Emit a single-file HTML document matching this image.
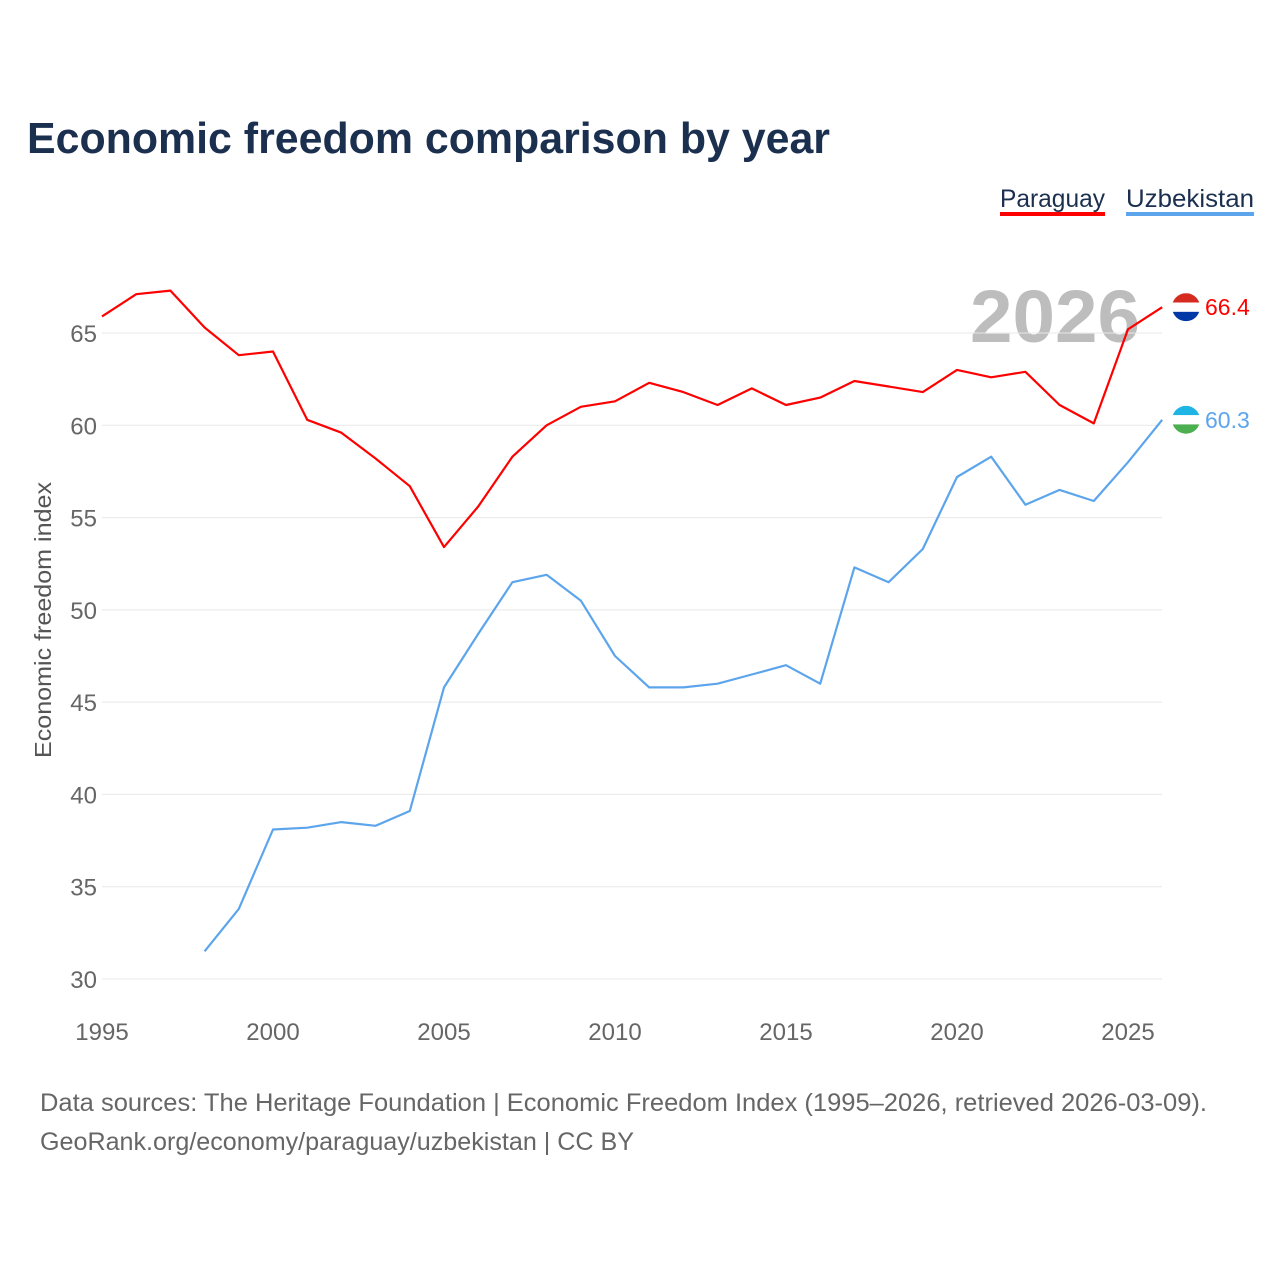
<!DOCTYPE html>
<html><head><meta charset="utf-8"><style>
body{margin:0;background:#fff;width:1280px;height:1280px;overflow:hidden;font-family:"Liberation Sans",sans-serif}
</style></head><body>
<svg width="1280" height="1280" xmlns="http://www.w3.org/2000/svg">
<defs>
<clipPath id="cp1"><circle cx="1186" cy="307" r="14"/></clipPath>
<clipPath id="cp2"><circle cx="1186" cy="420" r="14"/></clipPath>
</defs>
<text x="27" y="153" font-size="44" font-weight="bold" fill="#1b2f4e" textLength="803" lengthAdjust="spacingAndGlyphs">Economic freedom comparison by year</text>
<g>
<text x="1000" y="207" font-size="25" fill="#1b2f4e" textLength="105" lengthAdjust="spacingAndGlyphs">Paraguay</text>
<rect x="1000" y="212" width="105" height="4" fill="#ff0000"/>
<text x="1126" y="207" font-size="25" fill="#1b2f4e" textLength="128" lengthAdjust="spacingAndGlyphs">Uzbekistan</text>
<rect x="1126" y="212" width="128" height="4" fill="#5ca5ec"/>
</g>
<text x="1140" y="342" font-size="74" font-weight="bold" fill="#bdbdbd" text-anchor="end" textLength="170" lengthAdjust="spacingAndGlyphs">2026</text>
<g id="grid"></g><g id="xt"></g><g id="yt"></g><g id="lines"></g>
<text transform="translate(51,620) rotate(-90)" font-size="23" fill="#555" text-anchor="middle" textLength="276" lengthAdjust="spacingAndGlyphs">Economic freedom index</text>
<text x="40" y="1111" font-size="25" fill="#666" textLength="1167" lengthAdjust="spacingAndGlyphs">Data sources: The Heritage Foundation | Economic Freedom Index (1995–2026, retrieved 2026-03-09).</text>
<text x="40" y="1150" font-size="25" fill="#666" textLength="594" lengthAdjust="spacingAndGlyphs">GeoRank.org/economy/paraguay/uzbekistan | CC BY</text>
</svg>
<script>
const years=[1995,1996,1997,1998,1999,2000,2001,2002,2003,2004,2005,2006,2007,2008,2009,2010,2011,2012,2013,2014,2015,2016,2017,2018,2019,2020,2021,2022,2023,2024,2025,2026];
const paraguay=[65.9,67.1,67.3,65.3,63.8,64.0,60.3,59.6,58.2,56.7,53.4,55.6,58.3,60.0,61.0,61.3,62.3,61.8,61.1,62.0,61.1,61.5,62.4,62.1,61.8,63.0,62.6,62.9,61.1,60.1,65.2,66.4];
const uzbekistan=[null,null,null,31.5,33.8,38.1,38.2,38.5,38.3,39.1,45.8,48.7,51.5,51.9,50.5,47.5,45.8,45.8,46.0,46.5,47.0,46.0,52.3,51.5,53.3,57.2,58.3,55.7,56.5,55.9,58.0,60.3];
const yTicks=[30,35,40,45,50,55,60,65];
const xTicks=[1995,2000,2005,2010,2015,2020,2025];
const NS="http://www.w3.org/2000/svg";
const X=y=>102+(y-1995)*34.2;
const Y=v=>979-(v-30)*18.457;
function mk(p,t,a){const e=document.createElementNS(NS,t);for(const k in a)e.setAttribute(k,a[k]);(typeof p==='string'?document.getElementById(p):p).appendChild(e);return e;}
yTicks.forEach(v=>{
 const l=mk('grid','line',{x1:102,x2:1162,y1:Y(v),y2:Y(v),stroke:'#e8e8e8','stroke-width':1});
 
 
 const t=mk('yt','text',{x:97,y:Y(v)+9,'font-size':24,fill:'#666','text-anchor':'end'});t.textContent=v;
 
 
});
xTicks.forEach(v=>{
 const t=mk('xt','text',{x:X(v),y:1040,'font-size':24,fill:'#666','text-anchor':'middle'});t.textContent=v;
 
 
});
function series(vals,color,name,stripes,clip){
 let d='';vals.forEach((v,i)=>{if(v==null)return;d+=(d?'L':'M')+X(years[i]).toFixed(1)+','+Y(v).toFixed(1);});
 const p=mk('lines','path',{d:d,fill:'none',stroke:color,'stroke-width':2.2,'stroke-linejoin':'round'});
 
 
 const last=vals[vals.length-1];
 const cy=Y(last);
 document.getElementById(clip).firstChild.setAttribute('cy',cy);
 const g=mk('lines','g',{'clip-path':'url(#'+clip+')'});
 
 
 stripes.forEach((c,i)=>mk(g,'rect',{x:1172,y:cy-14+i*28/3,width:28,height:28/3+0.5,fill:c}));
 const t=mk('lines','text',{x:1205,y:cy+8,'font-size':23,fill:color});t.textContent=last.toFixed(1);
 
 
}
series(paraguay,'#ff0000','paraguay',['#d52b1e','#ffffff','#0038a8'],'cp1');
series(uzbekistan,'#5ca5ec','uzbekistan',['#1eb5e5','#ffffff','#4caf50'],'cp2');
</script>
</body></html>
